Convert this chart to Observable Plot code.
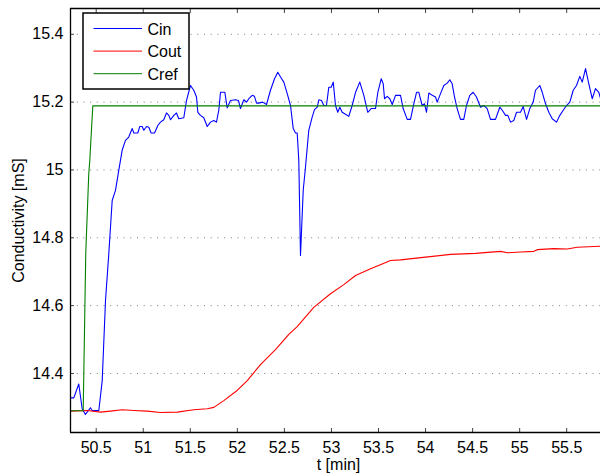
<!DOCTYPE html>
<html><head><meta charset="utf-8">
<script src="https://cdn.jsdelivr.net/npm/d3@7"></script>
<script src="https://cdn.jsdelivr.net/npm/@observablehq/plot@0.6"></script>
<style>html,body{margin:0;padding:0;background:#fff;overflow:hidden}</style>
</head><body><div id="chart"></div>
<script>
const seriesNames = ["Cin", "Cout", "Cref"];
const seriesColors = ["#0000ff", "#ff0000", "#008000"];

const cinT = [50.227,50.262,50.315,50.351,50.386,50.418,50.439,50.457,50.528,50.564,50.599,50.634,50.670,50.705,50.740,50.776,50.811,50.846,50.883,50.900,50.942,50.963,50.989,51.006,51.035,51.059,51.084,51.120,51.155,51.183,51.218,51.247,51.272,51.290,51.325,51.353,51.378,51.431,51.460,51.502,51.537,51.566,51.580,51.608,51.643,51.680,51.715,51.750,51.778,51.803,51.821,51.867,51.892,51.927,51.980,52.012,52.033,52.069,52.097,52.122,52.158,52.182,52.204,52.228,52.267,52.310,52.352,52.395,52.430,52.459,52.494,52.530,52.565,52.594,52.618,52.636,52.653,52.671,52.700,52.724,52.759,52.795,52.820,52.849,52.866,52.894,52.919,52.947,52.972,52.997,53.019,53.043,53.067,53.089,53.114,53.149,53.184,53.220,53.256,53.301,53.344,53.386,53.422,53.468,53.493,53.529,53.550,53.564,53.592,53.620,53.646,53.681,53.734,53.762,53.805,53.840,53.875,53.904,53.928,53.964,53.989,54.010,54.035,54.071,54.106,54.124,54.159,54.194,54.230,54.258,54.283,54.308,54.336,54.371,54.406,54.435,54.470,54.506,54.541,54.584,54.619,54.655,54.690,54.743,54.789,54.815,54.850,54.874,54.903,54.938,54.967,55.009,55.038,55.073,55.108,55.144,55.168,55.214,55.240,55.275,55.310,55.346,55.392,55.427,55.463,55.498,55.533,55.569,55.604,55.639,55.665,55.700,55.735,55.771,55.806,55.841,55.859];
const cinV = [14.328,14.328,14.369,14.296,14.279,14.291,14.299,14.291,14.291,14.379,14.615,14.753,14.910,14.940,14.999,15.058,15.087,15.097,15.122,15.109,15.109,15.128,15.128,15.117,15.128,15.126,15.109,15.109,15.131,15.141,15.148,15.168,15.161,15.148,15.161,15.168,15.151,15.154,15.205,15.249,15.235,15.215,15.170,15.161,15.154,15.128,15.141,15.146,15.141,15.176,15.229,15.229,15.183,15.205,15.207,15.205,15.181,15.207,15.200,15.210,15.220,15.217,15.197,15.197,15.200,15.193,15.235,15.269,15.288,15.274,15.259,15.225,15.190,15.122,15.109,15.109,15.028,14.748,14.940,15.008,15.117,15.156,15.178,15.185,15.207,15.205,15.190,15.190,15.244,15.244,15.259,15.190,15.170,15.185,15.170,15.164,15.158,15.190,15.229,15.259,15.220,15.170,15.181,15.181,15.229,15.269,15.254,15.210,15.217,15.210,15.193,15.220,15.220,15.181,15.149,15.149,15.195,15.229,15.229,15.190,15.195,15.170,15.227,15.220,15.215,15.200,15.225,15.249,15.256,15.266,15.254,15.215,15.181,15.149,15.149,15.190,15.220,15.229,15.215,15.185,15.190,15.181,15.149,15.149,15.185,15.176,15.161,15.161,15.141,15.146,15.170,15.170,15.187,15.149,15.181,15.200,15.235,15.249,15.229,15.195,15.170,15.151,15.141,15.161,15.176,15.190,15.200,15.235,15.249,15.276,15.259,15.299,15.254,15.210,15.240,15.229,15.211];

const coutT = [50.227,50.404,50.546,50.652,50.776,50.900,51.042,51.183,51.361,51.537,51.680,51.750,51.856,51.998,52.105,52.246,52.405,52.547,52.636,52.812,52.990,53.131,53.256,53.415,53.539,53.628,53.734,54.000,54.265,54.531,54.797,54.868,55.009,55.150,55.187,55.363,55.505,55.612,55.859];
const coutV = [14.289,14.291,14.286,14.289,14.293,14.291,14.289,14.285,14.286,14.293,14.296,14.300,14.320,14.350,14.379,14.426,14.470,14.515,14.538,14.595,14.635,14.662,14.689,14.709,14.723,14.733,14.735,14.743,14.751,14.754,14.760,14.756,14.758,14.760,14.765,14.768,14.767,14.772,14.775];

const crefT = [50.227,50.362,50.389,50.421,50.432,50.464,55.859];
const crefV = [14.290,14.290,14.753,14.989,15.028,15.189,15.189];

const xTicks = [50.5,51,51.5,52,52.5,53,53.5,54,54.5,55,55.5];
const yTicks = [14.4,14.6,14.8,15,15.2,15.4];
const xDomain = [50.227, 55.859];
const yDomain = [14.226, 15.476];
const xLabel = "t [min]";
const yLabel = "Conductivity [mS]";

const rows = [];
[[cinT, cinV], [coutT, coutV], [crefT, crefV]].forEach(([T, V], i) => {
  T.forEach((t, j) => rows.push({series: seriesNames[i], t, v: V[j]}));
});

const FONT = "'Liberation Sans', Arial, Helvetica, sans-serif";

function legendMark(index, scales, values, dims) {
  const g = d3.create("svg:g").attr("font-family", FONT).attr("font-size", 16).attr("text-anchor", "start");
  const x0 = dims.marginLeft + 13, y0 = dims.marginTop + 5;
  g.append("rect").attr("x", x0).attr("y", y0).attr("width", 106).attr("height", 76)
    .attr("fill", "white").attr("stroke", "black").attr("stroke-width", 1.5);
  seriesNames.forEach((n, i) => {
    const yy = y0 + 15.5 + i * 22.6;
    g.append("line").attr("x1", x0 + 10.5).attr("x2", x0 + 59).attr("y1", yy).attr("y2", yy)
      .attr("stroke", scales.color(n)).attr("stroke-width", 1);
    g.append("text").attr("x", x0 + 64.5).attr("y", yy + 6).attr("fill", "black")
      .attr("text-anchor", "start").text(n);
  });
  return g.node();
}

const chart = Plot.plot({
  width: 600, height: 476,
  marginLeft: 70, marginRight: 0, marginTop: 8, marginBottom: 44,
  style: {fontFamily: FONT, fontSize: "16px", background: "white", color: "black", overflow: "hidden"},
  x: {domain: xDomain},
  y: {domain: yDomain},
  color: {domain: seriesNames, range: seriesColors},
  marks: [
    Plot.ruleY(yTicks, {stroke: "#7a7a7a", strokeDasharray: "1,5.7", strokeWidth: 1}),
    Plot.line(rows, {x: "t", y: "v", z: "series", stroke: "series", strokeWidth: 1.1, clip: true}),
    Plot.axisX({ticks: xTicks, tickSize: -4, tickPadding: 13, tickFormat: d => String(d), label: null, stroke: "#444", fill: "black", fontSize: 16}),
    Plot.axisX({anchor: "top", ticks: xTicks, tickSize: -4, tickFormat: () => "", label: null, stroke: "#444"}),
    Plot.axisY({ticks: yTicks, tickSize: -4, tickPadding: 11, tickFormat: d => String(d), label: null, stroke: "#444", fill: "black", fontSize: 16}),
    Plot.ruleX([xDomain[0]], {stroke: "black", strokeWidth: 1.3}),
    Plot.ruleY([yDomain[0], yDomain[1]], {stroke: "black", strokeWidth: 1.3}),
    Plot.text([xLabel], {text: d => d, frameAnchor: "bottom", textAnchor: "middle", dx: 3, dy: 37.5, fontSize: 16, fill: "black"}),
    Plot.text([yLabel], {text: d => d, frameAnchor: "left", textAnchor: "middle", rotate: -90, dx: -51.6, fontSize: 16, fill: "black"}),
    legendMark
  ]
});
document.getElementById("chart").appendChild(chart);
</script>
</body></html>
